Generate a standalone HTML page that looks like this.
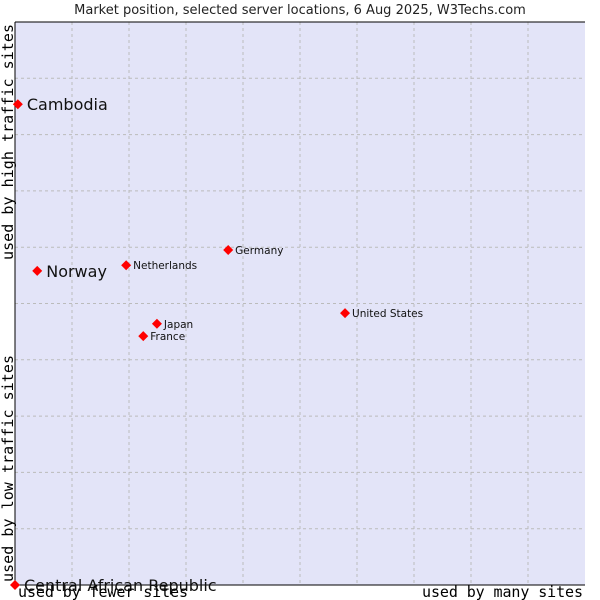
<!DOCTYPE html>
<html><head><meta charset="utf-8"><style>
body{margin:0;background:#fff;width:600px;height:600px;overflow:hidden}
svg{display:block;font-family:"DejaVu Sans","Liberation Sans",sans-serif}
</style></head><body>
<svg id="chart" width="600" height="600">
<text x="300" y="14" text-anchor="middle" font-size="13" fill="#222">Market position, selected server locations, 6 Aug 2025, W3Techs.com</text>
<rect x="15" y="22" width="570" height="563" fill="#e3e4f8"/>
<g id="grid"></g>
<line x1="15" y1="22" x2="15" y2="585" stroke="#000"/>
<line x1="15" y1="22" x2="585" y2="22" stroke="#000"/>
<line x1="15" y1="585" x2="585" y2="585" stroke="#000"/>
<g id="points"></g>
<text x="18" y="597" font-family="DejaVu Sans Mono,Liberation Mono,monospace" font-size="15" textLength="170" fill="#000">used by fewer sites</text>
<text x="422" y="597" font-family="DejaVu Sans Mono,Liberation Mono,monospace" font-size="15" textLength="161" fill="#000">used by many sites</text>
<text transform="translate(13,582) rotate(-90)" font-family="DejaVu Sans Mono,Liberation Mono,monospace" font-size="15" textLength="227" fill="#000">used by low traffic sites</text>
<text transform="translate(13,260) rotate(-90)" font-family="DejaVu Sans Mono,Liberation Mono,monospace" font-size="15" textLength="236" fill="#000">used by high traffic sites</text>
</svg>
<script>
const names=["Cambodia","Norway","Netherlands","Germany","United States","Japan","France","Central African Republic"];
const xVals=[0.5,3.9,19.5,37.4,57.9,24.9,22.5,0];
const yVals=[85.4,55.8,56.8,59.5,48.3,46.4,44.2,0];
const bigLabel=[true,true,false,false,false,false,false,true];
const NS="http://www.w3.org/2000/svg";
function sx(v){return 15+v*5.7;}
function sy(v){return 585-v*5.63;}
const grid=document.getElementById('grid');
for(let i=1;i<10;i++){
 const l=document.createElementNS(NS,'line');
 l.setAttribute('x1',sx(i*10));l.setAttribute('x2',sx(i*10));l.setAttribute('y1',22);l.setAttribute('y2',585);
 l.setAttribute('stroke','#bbbbbb');l.setAttribute('stroke-dasharray','3,3');
 
 
 grid.appendChild(l);
 const h=document.createElementNS(NS,'line');
 h.setAttribute('y1',sy(i*10));h.setAttribute('y2',sy(i*10));h.setAttribute('x1',15);h.setAttribute('x2',585);
 h.setAttribute('stroke','#bbbbbb');h.setAttribute('stroke-dasharray','3,3');
 
 
 grid.appendChild(h);
}
const pts=document.getElementById('points');
names.forEach((n,i)=>{
 const x=sx(xVals[i]),y=sy(yVals[i]);
 const d=document.createElementNS(NS,'path');
 d.setAttribute('d',`M${x-5},${y}L${x},${y-5}L${x+5},${y}L${x},${y+5}Z`);
 d.setAttribute('fill','#f00');
 
 
 pts.appendChild(d);
 const t=document.createElementNS(NS,'text');
 t.setAttribute('x',x+(bigLabel[i]?9:7));
 t.setAttribute('y',y+(bigLabel[i]?6:4));
 t.setAttribute('font-size',bigLabel[i]?16:10.5);
 t.setAttribute('fill','#111');
 t.textContent=n;
 
 
 pts.appendChild(t);
});
</script>
</body></html>
